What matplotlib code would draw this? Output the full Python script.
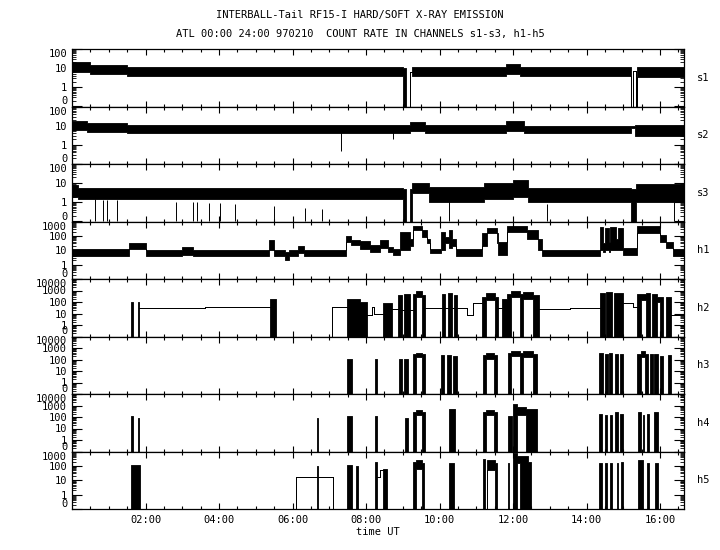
import numpy as np
import matplotlib.pyplot as plt

# INTERBALL-Tail RF15-I count rates, 10 Feb 1997 (hours UT)
# every channel is given as segment edges (hours) with the lower / upper
# envelope of the count rate inside each segment (0.1 stands for zero)

s1_t = [0, 0.5, 1.5, 9.0, 9.09, 9.19, 9.24, 11.8, 12.2, 15.22, 15.25, 15.34, 15.37, 16.65]
s1_lo = [6, 5, 4, .1, .1, 6, 4, 5, 4, .1, 7, .1, 3.5]
s1_hi = [20, 15, 12, 10, .1, 6, 12, 16, 11, .1, 7, .1, 11]

s2_t = [0, 0.4, 1.5, 9.2, 9.6, 11.8, 12.3, 15.2, 15.32, 16.65]
s2_lo = [6, 4.5, 4, 5, 4, 5, 4, 8, 3]
s2_hi = [18, 14, 11, 15, 11, 17, 10, 10, 11]
s2_spk_t = [7.31, 8.74]
s2_spk_v = [0.45, 2]

s3_t = [0, 0.15, 9.0, 9.1, 9.2, 9.25, 9.7, 11.2, 12.0, 12.4, 15.22, 15.35, 16.65]
s3_lo = [2, 1.5, .1, .1, .1, 3, 1, 1.5, 2, 1, .1, 1]
s3_hi = [8, 5.5, 5, .1, 5, 10, 6, 10, 15, 5.5, 5, 9]
s3_spk_t = [0.63, 0.85, 0.96, 1.23, 2.82, 3.30, 3.41, 3.74, 4.03, 4.44, 5.50, 6.35, 6.80,
            10.27, 12.92, 16.38]
s3_spk_v = [.1] * 16

h1_t = [0, 1.55, 2.0, 3.0, 3.3, 5.35, 5.5, 5.8, 5.9, 6.15, 6.3, 7.45, 7.6, 7.84, 8.1, 8.38,
        8.6, 8.74, 8.93, 9.2, 9.29, 9.51, 9.65, 9.74, 10.05, 10.15, 10.25, 10.35, 10.46,
        11.15, 11.28, 11.56, 11.6, 11.83, 12.37, 12.69, 12.78, 14.37, 14.45, 14.5, 14.6,
        14.65, 14.8, 14.86, 15.0, 15.37, 16.0, 16.15, 16.36, 16.65]
h1_lo = [4, 12, 4, 5, 4, 10, 4, 2, 4, 6, 4, 40, 25, 12, 8, 15, 8, 5, 10, 20, 250, 80, 30, 6,
         10, 30, 15, 20, 4, 20, 150, 30, 5, 200, 60, 10, 4, 10, 8, 10, 8, 10, 10, 10, 5, 150,
         40, 15, 4]
h1_hi = [12, 30, 10, 18, 10, 50, 10, 8, 10, 20, 10, 100, 50, 45, 25, 55, 18, 12, 200, 60,
         450, 250, 60, 12, 200, 80, 250, 60, 12, 150, 350, 150, 40, 500, 250, 60, 10, 400, 30,
         350, 40, 400, 60, 350, 15, 500, 120, 40, 12]

h2_t = [0, 1.60, 1.66, 1.79, 1.83, 3.62, 5.40, 5.56, 7.07, 7.48, 7.84, 8.03, 8.16, 8.22,
        8.46, 8.71, 8.87, 8.98, 9.03, 9.20, 9.28, 9.37, 9.52, 9.61, 10.07, 10.15, 10.22,
        10.33, 10.38, 10.48, 10.75, 10.90, 11.16, 11.25, 11.50, 11.58, 11.70, 11.84, 11.95,
        12.20, 12.28, 12.55, 12.70, 13.55, 14.37, 14.50, 14.54, 14.70, 14.75, 14.99, 15.25,
        15.37, 15.48, 15.62, 15.72, 15.78, 15.92, 16.0, 16.08, 16.15, 16.30, 16.65]
h2_lo = [.1, .1, .1, .1, 28, 34, .1, .1, 34, .1, .1, 7.4, 34, 10, .1, 25, .1, 20, .1, 20, .1,
         300, .1, 28, .1, 28, .1, 28, .1, 28, 7.4, 80, .1, 150, .1, 30, .1, .1, 250, .1, 200,
         .1, 23, 28, .1, .1, .1, .1, .1, 80, 35, .1, 150, .1, .1, .1, 100, .1, .1, .1, 7]
h2_hi = [.1, 100, .1, 100, 28, 34, 170, .1, 34, 170, 100, 7.4, 34, 10, 80, 25, 400, 20, 450,
         20, 500, 900, 400, 28, 500, 28, 600, 28, 400, 28, 7.4, 80, 300, 600, 300, 30, 200,
         500, 900, 500, 700, 400, 23, 28, 600, .1, 700, .1, 600, 80, 35, 500, 500, 600, .1,
         500, 300, 300, .1, 300, 7]

h3_t = [0, 7.48, 7.62, 8.24, 8.29, 8.90, 8.98, 9.03, 9.14, 9.28, 9.36, 9.52, 9.61, 10.04,
        10.12, 10.2, 10.3, 10.36, 10.48, 11.18, 11.26, 11.48, 11.56, 11.86, 11.95, 12.2,
        12.28, 12.55, 12.65, 14.34, 14.45, 14.5, 14.58, 14.62, 14.7, 14.76, 14.86, 14.9,
        15.0, 15.37, 15.47, 15.6, 15.66, 15.72, 15.8, 15.84, 15.95, 16.0, 16.08, 16.22,
        16.3, 16.65]
h3_lo = ([.1] * 10 + [150] + [.1] * 9 + [120] + [.1] * 3 + [200, .1, 150, .1, .1]
         + [.1] * 10 + [.1, 150] + [.1] * 10)
h3_hi = [.1, 120, .1, 120, .1, 120, .1, 120, .1, 300, 400, 300, .1, 250, .1, 250, .1, 200,
         .1, 250, 350, 250, .1, 400, 600, 400, 500, 300, .1, 350, .1, 300, .1, 400, .1, 300,
         .1, 300, .1, 300, 500, 300, .1, 300, .1, 300, .1, 200, .1, 250, .1]

h4_t = [0, 1.61, 1.66, 1.80, 1.83, 6.66, 6.70, 7.48, 7.62, 8.24, 8.30, 9.06, 9.14, 9.28,
        9.36, 9.52, 9.61, 10.26, 10.42, 11.18, 11.26, 11.48, 11.56, 11.86, 11.97, 12.0, 12.1,
        12.35, 12.65, 14.35, 14.41, 14.50, 14.56, 14.64, 14.69, 14.78, 14.86, 14.91, 15.0,
        15.41, 15.47, 15.53, 15.56, 15.65, 15.71, 15.84, 15.93, 16.65]
h4_lo = [.1] * 14 + [150] + [.1] * 5 + [150] + [.1] * 5 + [150] + [.1] * 20
h4_hi = [.1, 130, .1, 80, .1, 80, .1, 130, .1, 115, .1, 80, .1, 300, 400, 300, .1, 500, .1,
         300, 400, 300, .1, 130, .1, 1300, 800, 500, .1, 200, .1, 150, .1, 150, .1, 250, .1,
         200, .1, 250, .1, 150, .1, 200, .1, 250, .1]

h5_t = [0, 1.61, 1.85, 6.10, 6.66, 6.70, 7.10, 7.48, 7.62, 7.74, 7.78, 8.24, 8.30, 8.38,
        8.46, 8.57, 9.28, 9.36, 9.52, 9.58, 10.26, 10.40, 11.18, 11.24, 11.30, 11.50, 11.56,
        11.86, 11.90, 12.0, 12.12, 12.2, 12.4, 12.5, 14.35, 14.42, 14.50, 14.55, 14.64,
        14.68, 14.82, 14.86, 14.93, 15.0, 15.41, 15.53, 15.65, 15.71, 15.86, 15.93, 16.65]
h5_lo = [.1, .1, .1, 17, .1, 17, .1, .1, .1, .1, .1, .1, 17, 50, .1, .1, .1, 60, .1, .1, .1,
         .1, .1, .1, 50, .1, .1, .1, .1, .1, 150, .1, .1] + [.1] * 17
h5_hi = [.1, 120, .1, 17, 105, 17, .1, 115, .1, 105, .1, 200, 17, 50, 60, .1, 200, 250, 150,
         .1, 150, .1, 300, .1, 250, 150, .1, 150, .1, 800, 500, 500, 200, .1, 150, .1, 150,
         .1, 150, .1, 150, .1, 200, .1, 250, .1, 150, .1, 150, .1]

channels = [
    ('s1', s1_t, s1_lo, s1_hi, 100, [], []),
    ('s2', s2_t, s2_lo, s2_hi, 100, s2_spk_t, s2_spk_v),
    ('s3', s3_t, s3_lo, s3_hi, 100, s3_spk_t, s3_spk_v),
    ('h1', h1_t, h1_lo, h1_hi, 1000, [], []),
    ('h2', h2_t, h2_lo, h2_hi, 10000, [], []),
    ('h3', h3_t, h3_lo, h3_hi, 10000, [], []),
    ('h4', h4_t, h4_lo, h4_hi, 10000, [], []),
    ('h5', h5_t, h5_lo, h5_hi, 1000, [], []),
]

t_end = 16.65
plt.rcParams['font.family'] = ['DejaVu Sans Mono']
plt.rcParams['font.size'] = 7.5

fig = plt.figure(figsize=(7.2, 5.5), dpi=100)

top = 1 - 49 / 550
bottom = 1 - 509 / 550
panel_h = (top - bottom) / len(channels)

for i, (name, t, lo, hi, ymax, spk_t, spk_v) in enumerate(channels):
    assert len(t) == len(lo) + 1 == len(hi) + 1, name
    ax = fig.add_axes([0.1, top - (i + 1) * panel_h, 0.85, panel_h])

    lo2 = list(lo) + [lo[-1]]
    hi2 = list(hi) + [hi[-1]]
    ax.fill_between(t, lo2, hi2, step='post', facecolor='black', edgecolor='black',
                    linewidth=0.6)
    if len(spk_t) > 0:
        # spikes hang down from the lower edge of the band
        base = np.interp(spk_t, t[:-1], lo)
        ax.vlines(spk_t, spk_v, base, color='black', linewidth=0.7)

    ax.set_yscale('log')
    ax.set_ylim(0.1, ymax)
    ax.set_xlim(0, t_end)

    # y ticks: decades, lowest one is the zero level
    decades = [10.0 ** k for k in range(-1, int(np.log10(ymax)) + 1)]
    labels = ['0'] + [str(int(d)) for d in decades[1:]]
    ax.set_yticks(decades, labels)
    minors = [m * d for d in decades[:-1] for m in range(2, 10)]
    ax.set_yticks(minors, minor=True)
    ax.tick_params(axis='y', which='major', direction='in', length=7.5, width=0.8,
                   left=True, right=True, pad=3.5)
    ax.tick_params(axis='y', which='minor', direction='in', length=3, width=0.6,
                   left=True, right=True)
    ylabels = ax.get_yticklabels()
    ylabels[0].set_va('bottom')
    ylabels[-1].set_va('top')

    # x ticks: every 2 h, minor every 30 min, on top and bottom
    ax.set_xticks(np.arange(2, 17, 2))
    ax.set_xticks(np.arange(0.5, t_end, 0.5), minor=True)
    ax.tick_params(axis='x', which='major', direction='in', length=4, width=0.8,
                   top=True, bottom=True, pad=4.5)
    ax.tick_params(axis='x', which='minor', direction='in', length=2, width=0.8,
                   top=True, bottom=True)
    if i == len(channels) - 1:
        ax.set_xticklabels(['%02d:00' % h for h in range(2, 17, 2)])
        ax.set_xlabel('time UT', labelpad=1)
    else:
        ax.set_xticklabels([])

    for sp in ax.spines.values():
        sp.set_linewidth(0.9)

    ax.text(1.021, 0.5, name, transform=ax.transAxes, va='center', ha='left')

fig.text(0.5, 1 - 15 / 550, 'INTERBALL-Tail RF15-I HARD/SOFT X-RAY EMISSION',
         ha='center', va='center')
fig.text(0.5, 1 - 34 / 550, 'ATL 00:00 24:00 970210  COUNT RATE IN CHANNELS s1-s3, h1-h5',
         ha='center', va='center')

fig.savefig('out.png', dpi=100)
